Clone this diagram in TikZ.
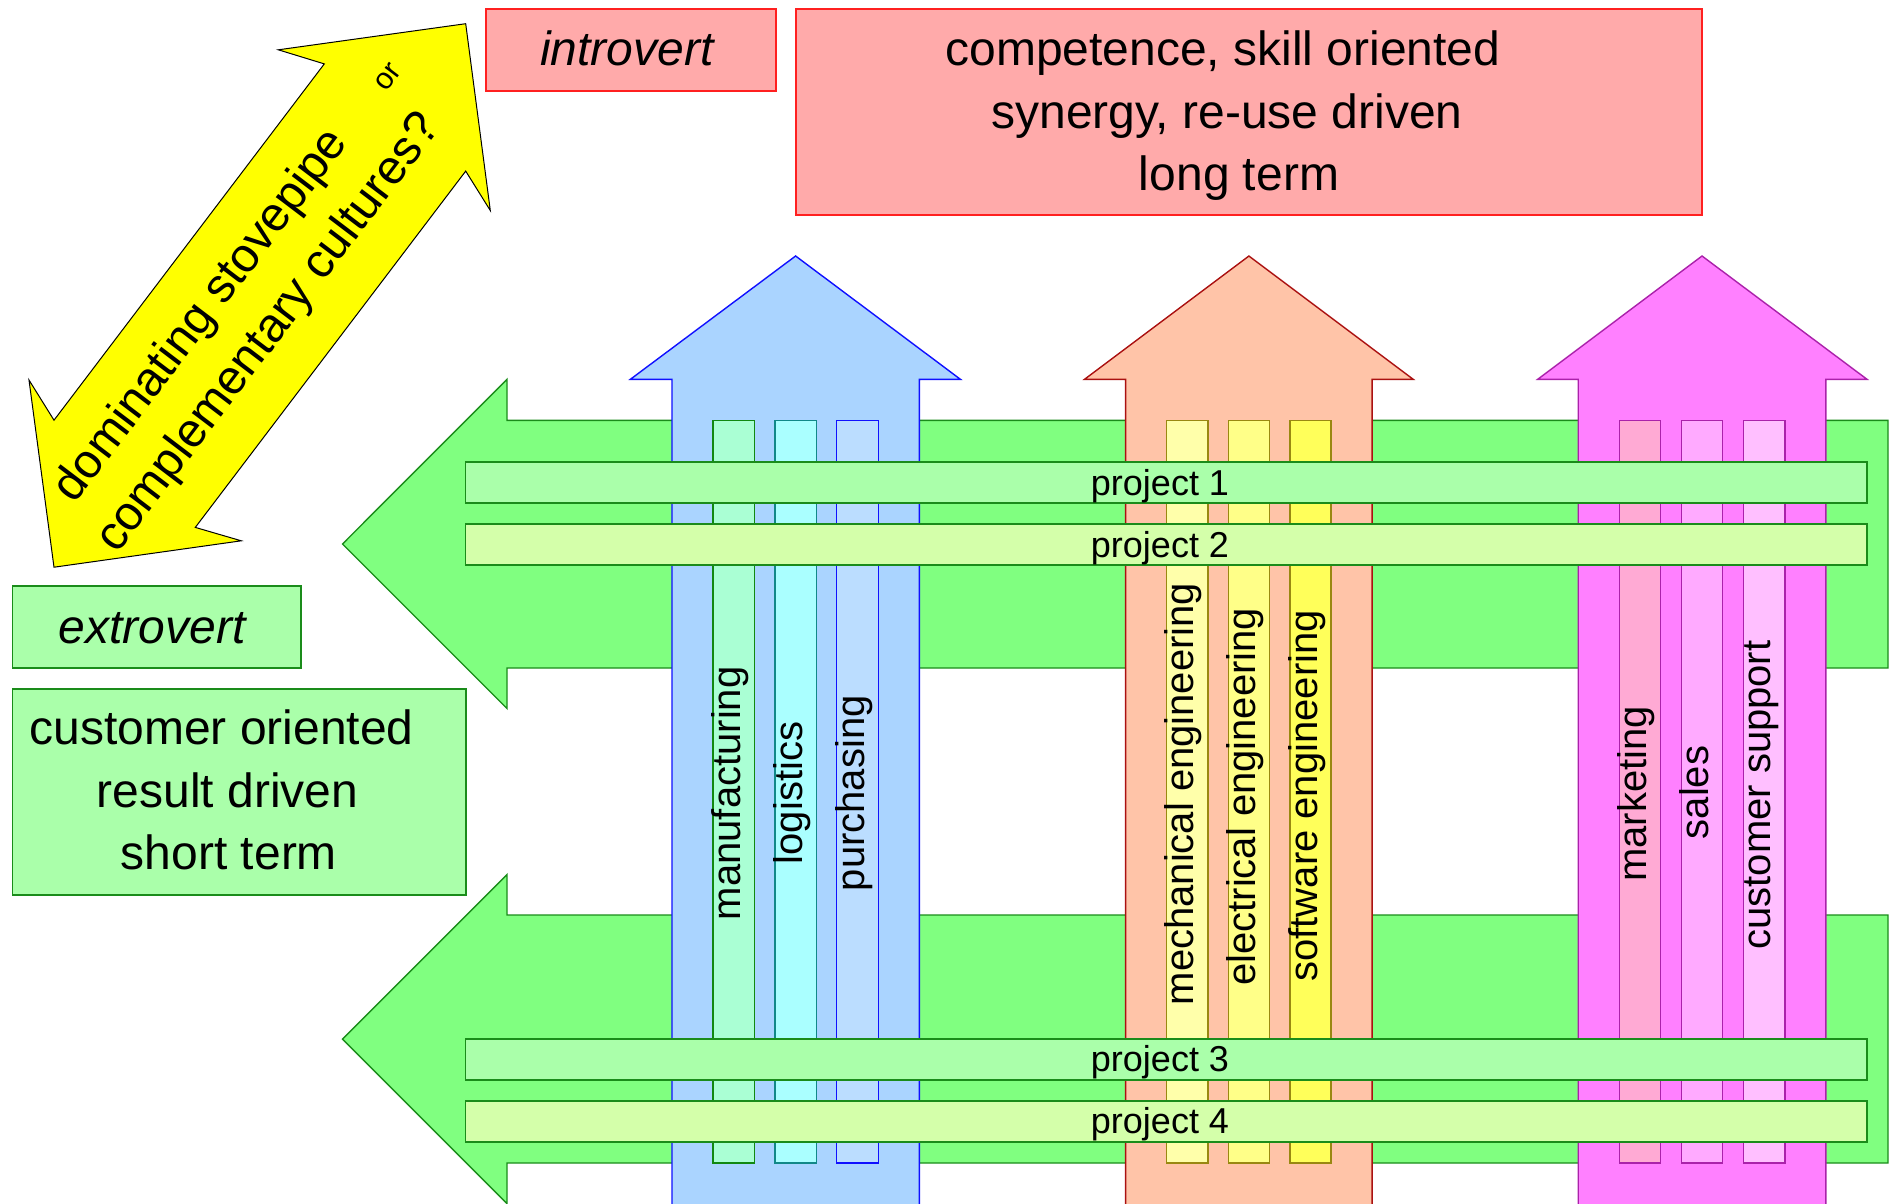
\documentclass[tikz,border=0pt]{standalone}
\usepackage{fontspec}
\setmainfont{Liberation Sans}
\definecolor{yel}{HTML}{FFFF00}
\definecolor{pinkfill}{HTML}{FFAAAA}
\definecolor{pinkline}{HTML}{FF2020}
\definecolor{gboxfill}{HTML}{AAFFAA}
\definecolor{gline}{HTML}{1A8C1A}
\definecolor{garrow}{HTML}{80FF80}
\definecolor{ptwofill}{HTML}{D4FFAA}
\definecolor{bluefill}{HTML}{AAD4FF}
\definecolor{blueline}{HTML}{1010FF}
\definecolor{manufill}{HTML}{AAFFD4}
\definecolor{manuline}{HTML}{118811}
\definecolor{logfill}{HTML}{AAFFFF}
\definecolor{tealline}{HTML}{118888}
\definecolor{purfill}{HTML}{BBDDFF}
\definecolor{orfill}{HTML}{FFC4A8}
\definecolor{orline}{HTML}{AA1111}
\definecolor{mechfill}{HTML}{FFFFAA}
\definecolor{elecfill}{HTML}{FFFF88}
\definecolor{softfill}{HTML}{FFFF5A}
\definecolor{oliveline}{HTML}{998811}
\definecolor{magfill}{HTML}{FF80FF}
\definecolor{magline}{HTML}{AA22AA}
\definecolor{mktfill}{HTML}{FFAAD4}
\definecolor{salesfill}{HTML}{FFAAFF}
\definecolor{custfill}{HTML}{FFBFFF}
\begin{document}
\begin{tikzpicture}[x=1pt,y=-1pt,
  shp/.style={line width=1.4pt, line join=miter},
  bigtext/.style={font=\fontsize{48}{58}\selectfont, anchor=base, inner sep=0pt},
  diagtext/.style={font=\fontsize{48}{58}\selectfont, rotate=52.8, inner sep=0pt},
  vtext/.style={font=\fontsize{40}{48}\selectfont, rotate=90, anchor=base, inner sep=0pt},
  ptext/.style={font=\fontsize{36}{43}\selectfont, anchor=base, inner sep=0pt}]
\useasboundingbox (0,0) rectangle (1895,1203);
\clip (0,0) rectangle (1895,1203);
\fill[white] (0,0) rectangle (1895,1203);

% yellow double arrow
\draw[line width=1pt, fill=yel, draw=black] (465.7,23.7) -- (278.3,49.8) -- (324.3,63.9) -- (54,420.2) -- (29,380) -- (54,567.2) -- (241.3,540.8) -- (195.3,527.4) -- (465.7,171.1) -- (490.3,210.5) -- cycle;
\node[diagtext] (dom) at (202,316.2) {dominating stovepipe};
\node[diagtext] (comp) at (269.3,333.6) {complementary cultures?};
\node[diagtext, font=\fontsize{30}{36}\selectfont] (or) at (388.5,77.3) {or};

% top boxes
\draw[shp, fill=pinkfill, draw=pinkline] (486,9) rectangle (776,91);
\node[bigtext, font=\fontsize{48}{58}\selectfont\itshape] (intro) at (627,65) {introvert};
\draw[shp, fill=pinkfill, draw=pinkline] (796,9) rectangle (1702,215);
\node[bigtext] (comp1) at (1223,65) {competence, skill oriented};
\node[bigtext] (comp2) at (1227,128) {synergy, re-use driven};
\node[bigtext] (comp3) at (1239,190) {long term};

% left boxes
\draw[shp, fill=gboxfill, draw=gline] (12.5,586) rectangle (301,668);
\node[bigtext, font=\fontsize{48}{58}\selectfont\itshape] (extro) at (152,643) {extrovert};
\draw[shp, fill=gboxfill, draw=gline] (12.5,689) rectangle (466,895);
\node[bigtext] (cust1) at (221.6,744.5) {customer oriented};
\node[bigtext] (cust2) at (227.7,807) {result driven};
\node[bigtext] (cust3) at (229,869.6) {short term};

% green left arrows
\draw[shp, fill=garrow, draw=gline] (1888,420.3) -- (507,420.3) -- (507,379.3) -- (342.5,544) -- (507,708.5) -- (507,668) -- (1888,668) -- cycle;
\draw[shp, fill=garrow, draw=gline] (1888,915) -- (507,915) -- (507,874.5) -- (342.5,1039) -- (507,1203.5) -- (507,1163) -- (1888,1163) -- cycle;

% pillars
\draw[shp, fill=bluefill, draw=blueline] (672,1230) -- (672,379.3) -- (630.4,379.3) -- (795.6,256) -- (960.4,379.3) -- (919.3,379.3) -- (919.3,1230) -- cycle;
\draw[shp, fill=orfill, draw=orline] (1125.6,1230) -- (1125.6,379.3) -- (1084.5,379.3) -- (1248.9,256) -- (1413.2,379.3) -- (1372.1,379.3) -- (1372.1,1230) -- cycle;
\draw[shp, fill=magfill, draw=magline] (1578.2,1230) -- (1578.2,379.3) -- (1537.7,379.3) -- (1702,256) -- (1867,379.3) -- (1825.9,379.3) -- (1825.9,1230) -- cycle;

% strips
\draw[shp, fill=manufill, draw=manuline] (713,420.3) rectangle (754.6,1163);
\draw[shp, fill=logfill, draw=tealline] (775,420.3) rectangle (816.6,1163);
\draw[shp, fill=purfill, draw=blueline] (836.7,420.3) rectangle (878.2,1163);
\draw[shp, fill=mechfill, draw=oliveline] (1166.7,420.3) rectangle (1207.8,1163);
\draw[shp, fill=elecfill, draw=oliveline] (1228.3,420.3) rectangle (1269.4,1163);
\draw[shp, fill=softfill, draw=oliveline] (1290,420.3) rectangle (1331,1163);
\draw[shp, fill=mktfill, draw=magline] (1619.3,420.3) rectangle (1660.4,1163);
\draw[shp, fill=salesfill, draw=magline] (1681.5,420.3) rectangle (1722.6,1163);
\draw[shp, fill=custfill, draw=magline] (1743.7,420.3) rectangle (1784.8,1163);

\node[vtext] (manu) at (740.3,793.3) {manufacturing};
\node[vtext] (logi) at (802.3,793) {logistics};
\node[vtext] (purc) at (864,793.3) {purchasing};
\node[vtext] (mech) at (1193.7,794) {mechanical engineering};
\node[vtext] (elec) at (1255.3,796.7) {electrical engineering};
\node[vtext] (soft) at (1317,795.8) {software engineering};
\node[vtext] (mark) at (1646.3,794) {marketing};
\node[vtext] (sale) at (1708.5,792.5) {sales};
\node[vtext] (supp) at (1770.7,795) {customer support};

% project bars
\draw[shp, line width=1.8pt, fill=gboxfill, draw=gline] (465.5,462) rectangle (1867,503);
\draw[shp, line width=1.8pt, fill=ptwofill, draw=gline] (465.5,524) rectangle (1867,565);
\draw[shp, line width=1.8pt, fill=gboxfill, draw=gline] (465.5,1039) rectangle (1867,1080);
\draw[shp, line width=1.8pt, fill=ptwofill, draw=gline] (465.5,1101) rectangle (1867,1142);
\node[ptext] (p1) at (1160,495) {project 1};
\node[ptext] (p2) at (1160,557) {project 2};
\node[ptext] (p3) at (1160,1071) {project 3};
\node[ptext] (p4) at (1160,1133) {project 4};
\end{tikzpicture}
\end{document}
